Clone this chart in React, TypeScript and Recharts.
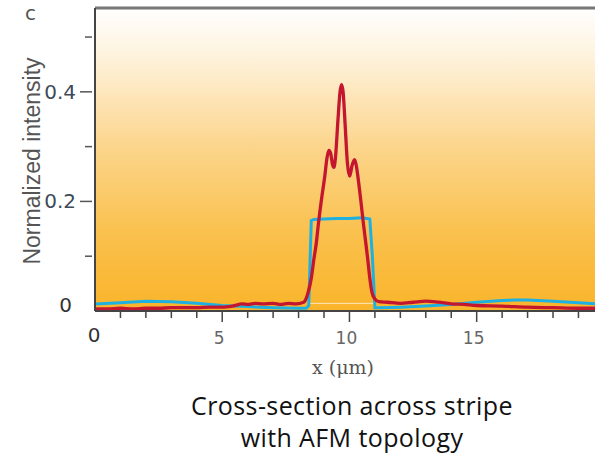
import React from 'react';
import {
  LineChart,
  Line,
  XAxis,
  YAxis,
  CartesianGrid,
  ReferenceLine,
} from 'recharts';

// AFM height profile (blue) across the stripe, x in µm
const afmX = [0, 1, 2, 3, 4, 5, 6, 7, 8, 8.3, 8.4, 8.5, 8.6, 9, 9.5, 10, 10.5, 10.8, 10.9, 11, 11.2, 12, 13, 14, 15, 16, 16.5, 17, 18, 19, 19.65];
const afmY = [0.013, 0.015, 0.018, 0.017, 0.014, 0.01, 0.008, 0.006, 0.005, 0.005, 0.01, 0.165, 0.167, 0.168, 0.169, 0.169, 0.17, 0.168, 0.1, 0.006, 0.006, 0.007, 0.009, 0.012, 0.016, 0.019, 0.02, 0.02, 0.018, 0.015, 0.013];

// Optical intensity profile (red)
const optX = [0, 0.5, 1, 1.5, 2, 2.5, 3, 3.5, 4, 4.5, 5, 5.4, 5.8, 6, 6.3, 6.6, 7, 7.3, 7.6, 7.9, 8.2, 8.37, 8.5, 8.6, 8.7, 8.77, 8.89, 9.03, 9.12, 9.19, 9.26, 9.33, 9.39, 9.45, 9.55, 9.63, 9.69, 9.75, 9.83, 9.92, 10.01, 10.1, 10.2, 10.27, 10.33, 10.45, 10.56, 10.64, 10.72, 10.8, 10.89, 11, 11.15, 11.5, 12, 12.5, 13, 13.5, 14, 14.5, 15, 16, 17, 18, 19, 19.65];
const optY = [0.004, 0.004, 0.005, 0.004, 0.005, 0.005, 0.006, 0.006, 0.006, 0.007, 0.007, 0.009, 0.013, 0.012, 0.014, 0.013, 0.014, 0.012, 0.014, 0.013, 0.016, 0.033, 0.06, 0.094, 0.125, 0.155, 0.2, 0.246, 0.28, 0.293, 0.288, 0.268, 0.262, 0.28, 0.35, 0.4, 0.413, 0.4, 0.34, 0.27, 0.246, 0.265, 0.276, 0.265, 0.246, 0.2, 0.155, 0.125, 0.094, 0.06, 0.033, 0.022, 0.017, 0.016, 0.014, 0.016, 0.018, 0.016, 0.013, 0.012, 0.01, 0.009, 0.007, 0.006, 0.005, 0.005];

const xTicks = [1, 2, 3, 4, 5, 6, 7, 8, 9, 10, 11, 12, 13, 14, 15, 16, 17, 18, 19];
const xLabels = [0, 5, 10, 15];
const yTicks = [0, 0.1, 0.2, 0.3, 0.4, 0.5];
const yLabels = [0.2, 0.4];
const captionLines = ['Cross-section across stripe', 'with AFM topology'];

const X_MAX = 19.65;
const Y_MAX = 0.553;

const afmData = afmX.map((x, i) => ({ x, y: afmY[i] }));
const optData = optX.map((x, i) => ({ x, y: optY[i] }));

const XTick = ({ x, y, payload }: any) => {
  const v = payload.value;
  const major = v % 5 === 0;
  return (
    <g>
      <line x1={x} x2={x} y1={y} y2={y + (major ? 11 : 7)} stroke="#444" strokeWidth={1.5} />
    </g>
  );
};

const YTick = ({ x, y, payload }: any) => {
  const v = payload.value;
  if (v === 0) {
    return (
      <text x={x - 23} y={y - 6} textAnchor="end" dominantBaseline="central" fontSize={20} fill="#333" fontFamily="DejaVu Sans">
        0
      </text>
    );
  }
  const major = yLabels.includes(v);
  return (
    <g>
      <line x1={x - (major ? 15 : 10)} x2={x - 3} y1={y} y2={y} stroke="#555" strokeWidth={1.5} />
      {major && (
        <text x={x - 19} y={y} textAnchor="end" dominantBaseline="central" fontSize={20} fill="#3d4a5a" fontFamily="DejaVu Sans">
          {v.toFixed(1)}
        </text>
      )}
    </g>
  );
};

export default function App() {
  return (
    <div style={{ position: 'absolute', left: 0, top: 0, width: 595, height: 453, background: '#fff', overflow: 'hidden' }}>
      <LineChart
        width={595}
        height={453}
        margin={{ top: 8, right: 0, left: 0, bottom: 112 }}
      >
        <defs>
          <linearGradient id="bgFade" x1="0" y1="0" x2="0" y2="1">
            <stop offset="0%" stopColor="#ffffff" />
            <stop offset="15%" stopColor="#fef3df" />
            <stop offset="45%" stopColor="#fcd68e" />
            <stop offset="75%" stopColor="#fac04c" />
            <stop offset="100%" stopColor="#f9b42a" />
          </linearGradient>
        </defs>
        <CartesianGrid horizontal={false} vertical={false} fill="url(#bgFade)" />
        <XAxis
          type="number"
          dataKey="x"
          domain={[0, X_MAX]}
          ticks={xTicks}
          allowDataOverflow
          height={30}
          tickSize={0}
          tickMargin={0}
          tick={<XTick />}
          axisLine={{ stroke: '#444', strokeWidth: 2 }}
        />
        <YAxis
          type="number"
          domain={[0, Y_MAX]}
          ticks={yTicks}
          allowDataOverflow
          width={95}
          tickSize={0}
          tickMargin={0}
          tick={<YTick />}
          axisLine={{ stroke: '#444', strokeWidth: 2 }}
        />
        <ReferenceLine y={Y_MAX} stroke="#777" strokeWidth={3} />
        <ReferenceLine
          segment={[{ x: 8.35, y: 0.014 }, { x: 10.95, y: 0.014 }]}
          stroke="#ffffff"
          strokeOpacity={0.7}
          strokeWidth={1}
        />
        <Line
          data={afmData}
          dataKey="y"
          type="linear"
          stroke="#1fb0e2"
          strokeWidth={3}
          dot={false}
          isAnimationActive={false}
        />
        <Line
          data={optData}
          dataKey="y"
          type="monotone"
          stroke="#c4162e"
          strokeWidth={3.3}
          dot={false}
          isAnimationActive={false}
        />
      </LineChart>

      {/* panel letter, axis labels and caption */}
      <div style={{ position: 'absolute', left: 25, top: 1, fontSize: 20, color: '#555', fontFamily: 'DejaVu Sans' }}>c</div>
      <div
        style={{
          position: 'absolute',
          left: 32,
          top: 161,
          transform: 'translate(-50%, -50%) rotate(-90deg)',
          whiteSpace: 'nowrap',
          fontSize: 23,
          color: '#555',
          fontFamily: 'Liberation Sans',
        }}
      >
        Normalized intensity
      </div>
      {xLabels.map((v) => (
        <div
          key={v}
          style={{
            position: 'absolute',
            left: 94 + (v / X_MAX) * 500 - (v === 0 ? 0 : 2),
            top: v === 0 ? 335 : 338,
            transform: 'translate(-50%, -50%)',
            fontSize: v === 0 ? 20 : 17,
            color: v === 0 ? '#333' : '#666',
            fontFamily: 'DejaVu Sans',
          }}
        >
          {v}
        </div>
      ))}
      <div
        style={{
          position: 'absolute',
          left: 343,
          top: 367,
          transform: 'translate(-50%, -50%)',
          fontSize: 19,
          color: '#555',
          fontFamily: 'DejaVu Serif',
          whiteSpace: 'nowrap',
        }}
      >
        x (μm)
      </div>
      {captionLines.map((line, i) => (
        <div
          key={line}
          style={{
            position: 'absolute',
            left: 352,
            top: 390 + i * 32,
            height: 30,
            transform: 'translateX(-50%)',
            fontSize: 25,
            lineHeight: '30px',
            letterSpacing: 0.4,
            color: '#111',
            fontFamily: 'Open Sans',
            whiteSpace: 'nowrap',
          }}
        >
          {line}
        </div>
      ))}
    </div>
  );
}
